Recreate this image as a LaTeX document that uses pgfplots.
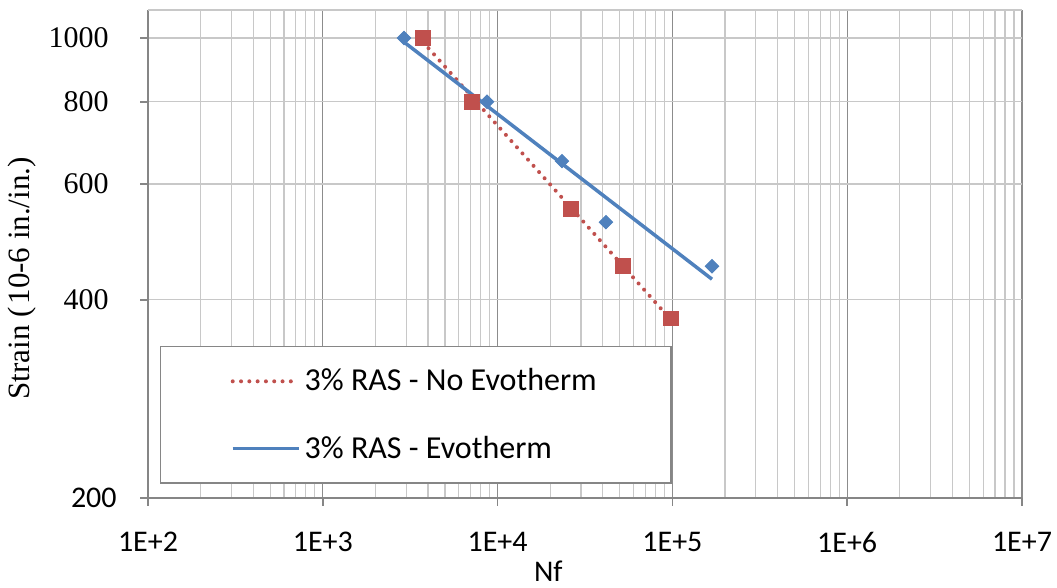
\documentclass[border=0pt]{standalone}
\usepackage{fontspec}
\setmainfont{Liberation Serif}
\newfontfamily\carlito{Carlito}
\usepackage{pgfplots}
\pgfplotsset{compat=1.18}

\definecolor{serRed}{HTML}{C0504D}
\definecolor{serBlue}{HTML}{4F81BD}
\definecolor{gridMajor}{HTML}{8C8C8C}
\definecolor{gridMinor}{HTML}{C8C8C8}
\definecolor{axisGray}{HTML}{868686}

% right-aligned y tick label of fixed width
\newcommand{\ylab}[2][0pt]{\makebox[30pt][r]{#2\hspace{#1}}}

\begin{document}
\begin{tikzpicture}
\path[use as bounding box] (0,0) rectangle (528.5pt,294pt);
\begin{axis}[
  at={(74pt,45pt)}, anchor=south west,
  scale only axis, width=437pt, height=244pt,
  xmode=log, ymode=log,
  xmin=100, xmax=1e7, ymin=200, ymax=1103,
  xtick={1e2,1e3,1e4,1e5,1e6,1e7},
  xticklabels={1E+2,1E+3,1E+4,1E+5,1E+6,1E+7},
  minor xtick={200,300,400,500,600,700,800,900,
               2000,3000,4000,5000,6000,7000,8000,9000,
               20000,30000,40000,50000,60000,70000,80000,90000,
               200000,300000,400000,500000,600000,700000,800000,900000,
               2000000,3000000,4000000,5000000,6000000,7000000,8000000,9000000},
  ytick={200,400,600,800,1000},
  yticklabels={{\ylab{\carlito 200}},{\ylab[4pt]{400}},{\ylab[4pt]{600}},{\ylab[4pt]{800}},{\ylab[4pt]{1000}}},
  xmajorgrids, xminorgrids, ymajorgrids,
  major x grid style={gridMajor, line width=0.6pt},
  minor x grid style={gridMinor, line width=0.6pt},
  major y grid style={gridMinor, line width=0.6pt},
  axis x line*=bottom, axis y line*=left,
  axis line style={axisGray, line width=0.75pt, -},
  tick align=outside, major tick length=4pt, minor tick length=0pt,
  tick style={axisGray, line width=0.75pt},
  xticklabel style={font=\carlito\fontsize{15}{18}\selectfont, inner sep=0pt, yshift=-13pt},
  yticklabel style={font=\fontsize{15}{18}\selectfont, inner sep=0pt, anchor=east, xshift=-11.5pt},
  xlabel={Nf},
  xlabel style={at={(rel axis cs:0.458,0)}, anchor=base, yshift=-42pt,
                font=\carlito\fontsize{15}{18}\selectfont},
  ylabel={Strain (\kern1.5pt10-6 in./in.)},
  ylabel style={at={(rel axis cs:-0.1442,0.45)}, anchor=center,
                font=\fontsize{15.5}{18}\selectfont},
  legend image code/.code={\draw[#1] (0pt,0pt) -- (33pt,0pt);},
  legend style={at={(rel axis cs:0.0137,0.3115)}, anchor=north west,
                draw=axisGray, line width=0.75pt, fill=white,
                font=\carlito\fontsize{16}{19}\selectfont,
                inner xsep=35pt, inner ysep=9pt, row sep=17pt,
                cells={anchor=west}},
]
% plot-area top border
\draw[gridMinor, line width=0.6pt] (rel axis cs:0,1) -- (rel axis cs:1,1);

% measured fatigue lives
\addplot[only marks, mark=square*, mark size=3.7pt, color=serRed, forget plot]
  coordinates {(3743,1000) (7137,800) (26300,550) (52170,450) (98200,375)};
\addplot[only marks, mark=square*, mark size=2.4pt, mark options={rotate=45},
         color=serBlue, forget plot]
  coordinates {(2914,1000) (8698,800) (23355,650) (41690,525) (168460,450)};

% power-law trend lines
\addplot[serRed, line width=2pt, line cap=round, dash pattern=on 0pt off 4.15pt]
  coordinates {(3743,986) (98200,373)};
\addlegendentry{3\% RAS - No Evotherm}
\addplot[serBlue, line width=1.75pt]
  coordinates {(2914,986) (168460,430)};
\addlegendentry{3\% RAS - Evotherm}
\end{axis}
\end{tikzpicture}
\end{document}
